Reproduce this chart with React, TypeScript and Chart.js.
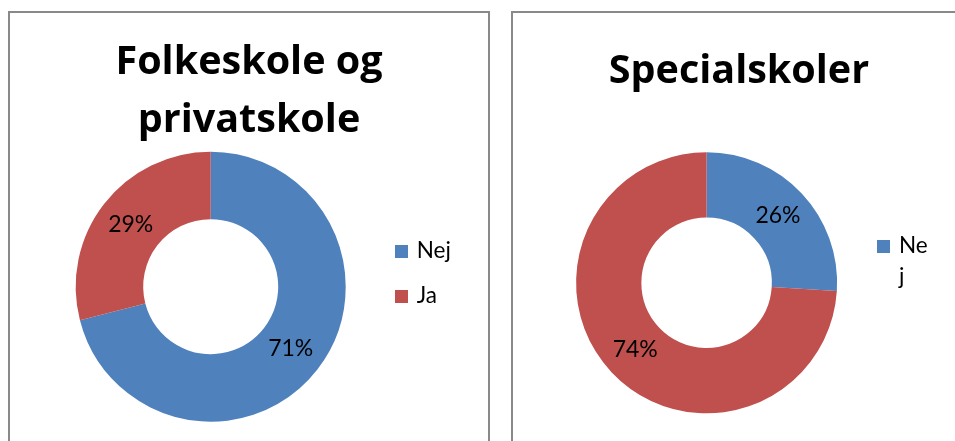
import React, { useEffect, useRef } from 'react';
import { Chart, registerables } from 'chart.js';

Chart.register(...registerables);

// ---- data ----
const categories = ['Nej', 'Ja'];
const folkeskoleValues = [71, 29];
const specialskoleValues = [26, 74];
const folkeskoleTitle = ['Folkeskole og', 'privatskole'];
const specialskoleTitle = ['Specialskoler'];
const sliceColors = ['#4F81BD', '#C0504D'];

const FONT = 'Lato, Carlito, Calibri, "Open Sans", sans-serif';
const TITLE_FONT = '"Open Sans", Lato, sans-serif';

function wrapText(ctx: CanvasRenderingContext2D, text: string, maxWidth: number): string[] {
  const lines: string[] = [];
  let cur = '';
  for (const ch of text) {
    const test = cur + ch;
    if (cur && ctx.measureText(test).width > maxWidth) {
      lines.push(cur);
      cur = ch;
    } else {
      cur = test;
    }
  }
  if (cur) lines.push(cur);
  return lines;
}

const decorPlugin = {
  id: 'decor',
  afterDraw(chart: any, _args: any, opts: any) {
    const ctx: CanvasRenderingContext2D = chart.ctx;
    ctx.save();
    ctx.fillStyle = '#000';
    ctx.textBaseline = 'alphabetic';

    // title
    ctx.textAlign = 'center';
    ctx.font = `bold ${opts.titleSize}px ${TITLE_FONT}`;
    (opts.title as string[]).forEach((line, i) => {
      ctx.fillText(line, chart.width / 2 + (opts.titleDx || 0), opts.titleY + i * opts.titleGap);
    });

    // data labels
    const meta = chart.getDatasetMeta(0);
    const values: number[] = chart.data.datasets[0].data;
    const total = values.reduce((a, b) => a + b, 0);
    ctx.font = `${opts.labelSize}px ${FONT}`;
    ctx.textAlign = 'center';
    ctx.textBaseline = 'middle';
    meta.data.forEach((arc: any, i: number) => {
      const p = arc.tooltipPosition(false);
      const pct = Math.round((values[i] / total) * 100) + '%';
      ctx.fillText(pct, p.x, p.y);
    });

    // legend
    const lg = opts.legend;
    ctx.textAlign = 'left';
    ctx.textBaseline = 'alphabetic';
    ctx.font = `${lg.fontSize}px ${FONT}`;
    const labels: string[] = chart.data.labels;
    const n = Math.min(labels.length, lg.maxItems);
    for (let i = 0; i < n; i++) {
      const y0 = lg.y + i * lg.rowGap;
      ctx.fillStyle = sliceColors[i];
      ctx.fillRect(lg.x, y0, lg.box, lg.box);
      ctx.fillStyle = '#000';
      const lines = wrapText(ctx, labels[i], lg.maxWidth);
      lines.forEach((ln, j) => {
        ctx.fillText(ln, lg.textX, y0 + lg.box + j * lg.lineGap);
      });
    }
    ctx.restore();
  },
};

type PanelProps = {
  values: number[];
  width: number;
  height: number;
  padding: { left: number; right: number; top: number; bottom: number };
  decor: any;
};

function DonutPanel({ values, width, height, padding, decor }: PanelProps) {
  const ref = useRef<HTMLCanvasElement | null>(null);
  useEffect(() => {
    if (!ref.current) return;
    const chart = new Chart(ref.current, {
      type: 'doughnut',
      data: {
        labels: categories,
        datasets: [
          {
            data: values,
            backgroundColor: sliceColors,
            borderWidth: 0,
          },
        ],
      },
      options: {
        animation: false,
        responsive: false,
        maintainAspectRatio: false,
        cutout: '50%',
        rotation: 0,
        events: [],
        layout: { padding },
        plugins: {
          legend: { display: false },
          title: { display: false },
          tooltip: { enabled: false },
          decor,
        } as any,
      },
      plugins: [decorPlugin],
    });
    return () => chart.destroy();
  }, []);
  return <canvas ref={ref} width={width} height={height} style={{ display: 'block', width, height }} />;
}

export default function App() {
  useEffect(() => {
    document.body.style.margin = '0';
  }, []);
  const panelBase: React.CSSProperties = {
    position: 'absolute',
    top: 11,
    border: '2px solid #898989',
    background: '#fff',
    overflow: 'hidden',
  };
  return (
    <div style={{ position: 'fixed', left: 0, top: 0, width: 955, height: 441, overflow: 'hidden', background: '#fff' }}>
      <div style={{ ...panelBase, left: 8, width: 478, height: 460 }}>
        <DonutPanel
          values={folkeskoleValues}
          width={478}
          height={460}
          padding={{ left: 65.7, right: 142.3, top: 138.7, bottom: 51.3 }}
          decor={{
            title: folkeskoleTitle,
            titleSize: 39.5,
            titleY: 61,
            titleGap: 58,
            labelSize: 23,
            legend: { x: 385, y: 232, box: 13, textX: 406.7, rowGap: 45, fontSize: 22.5, maxWidth: 200, lineGap: 31, maxItems: 2 },
          }}
        />
      </div>
      <div style={{ ...panelBase, left: 511, width: 452, height: 460 }}>
        <DonutPanel
          values={specialskoleValues}
          width={452}
          height={460}
          padding={{ left: 63.1, right: 127.9, top: 139.3, bottom: 59.7 }}
          decor={{
            title: specialskoleTitle,
            titleSize: 39.5,
            titleY: 70,
            titleGap: 58,
            labelSize: 23,
            legend: { x: 364, y: 227, box: 13, textX: 386, rowGap: 45, fontSize: 22.5, maxWidth: 31, lineGap: 31, maxItems: 1 },
          }}
        />
      </div>
    </div>
  );
}
